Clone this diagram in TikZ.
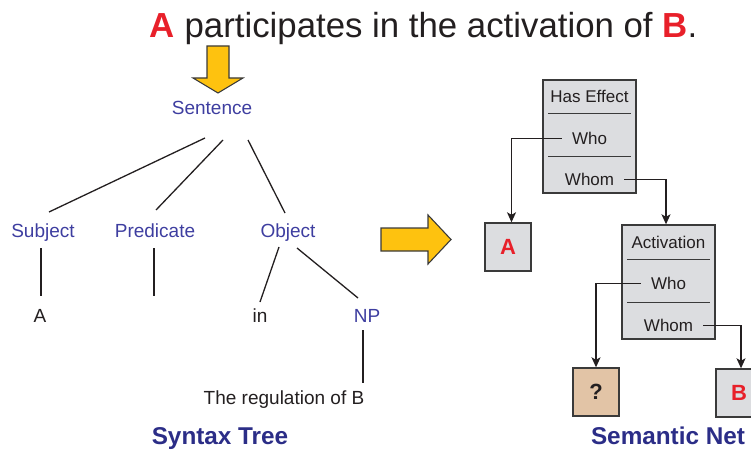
\documentclass[tikz,border=0pt]{standalone}
\usepackage{fontspec}
\setmainfont{Liberation Sans}
\usepackage{xcolor}
\usetikzlibrary{arrows.meta,positioning,calc}
\definecolor{stblue}{HTML}{3E3EA0}
\definecolor{capblue}{HTML}{2B2D87}
\definecolor{sttext}{HTML}{231F20}
\definecolor{snred}{HTML}{E8202A}
\definecolor{snedge}{HTML}{3A3A3A}
\definecolor{snfill}{HTML}{DCDDE0}
\definecolor{snopen}{HTML}{E2C4A6}
\definecolor{bigyellow}{HTML}{FEC20F}
\tikzset{
  st label/.style={
    font=\fontsize{19}{22}\selectfont,
    text=stblue,
    inner sep=0pt,
    text height=13.6pt,
    text depth=0pt,
  },
  st leaf/.style={st label, text=sttext},
  st edge/.style={line width=1.3pt, draw=sttext},
  sn frame/.style={
    rectangle,
    draw=snedge,
    line width=1.4pt,
    fill=snfill,
    minimum width=93pt,
    minimum height=113pt,
    inner sep=0pt,
  },
  sn slot/.style={
    rectangle,
    draw=snedge,
    line width=1.4pt,
    fill=snfill,
    minimum width=46pt,
    minimum height=48pt,
    inner sep=0pt,
    font=\bfseries\fontsize{22}{24}\selectfont,
    text=snred,
  },
  sn field/.style={
    font=\fontsize{17}{20}\selectfont,
    text=sttext,
    inner xsep=10pt,
    inner ysep=0pt,
    text height=12.2pt,
    text depth=0pt,
  },
  sn rule/.style={line width=1.4pt, draw=snedge},
  sn arrow/.style={-{Stealth[length=10pt,width=9pt,inset=2.5pt]}, line width=1.3pt, draw=sttext},
  big arrow/.style={fill=bigyellow, draw=snedge, line width=1.1pt, line join=miter},
  caption/.style={font=\bfseries\fontsize{24.3}{28}\selectfont, text=capblue, text height=17.5pt, text depth=0pt, inner sep=0pt},
}
\begin{document}
\begin{tikzpicture}[x=1pt,y=-1pt]
  \useasboundingbox (0,0) rectangle (751,449);

  % sentence on top
  \node[font=\fontsize{34.8}{40}\selectfont, text=sttext, inner sep=0pt, text height=25pt, text depth=0pt] (sent) at (423.5,25)
    {{\color{snred}\textbf{A}} participates in the activation of {\color{snred}\textbf{B}}.};
  \draw[big arrow] (207,46) -- (229,46) -- (229,78) -- (243,78) -- (218,93) -- (193,78) -- (207,78) -- cycle;
  \draw[big arrow] (381,228) -- (428,228) -- (428,215) -- (451,239.5) -- (428,264) -- (428,251) -- (381,251) -- cycle;

  % syntax tree
  \node[st label] (sentence) at (212,108) {Sentence};
  \node[st label] (subject) at (43,231) {Subject};
  \node[st label] (predicate) at (155,231) {Predicate};
  \node[st label] (object) at (288,231) {Object};
  \node[st leaf] (leafa) at (40,316) {A};
  \node[st leaf] (leafin) at (260,316) {in};
  \node[st label] (np) at (367,316) {NP};
  \node[st leaf] (regul) at (284,398) {The regulation of B};
  \coordinate (predleaf) at (154,296);
  \node[caption] (syntax) at (220,436) {Syntax Tree};

  \draw[st edge] ([shift={(-7,30)}]sentence.center) -- ([shift={(6,-19)}]subject.center);
  \draw[st edge] ([shift={(11,32)}]sentence.center) -- ([shift={(1,-21)}]predicate.center);
  \draw[st edge] ([shift={(36,32)}]sentence.center) -- ([shift={(-3,-18)}]object.center);
  \draw[st edge] ([shift={(-2,17)}]subject.center) -- ([shift={(1,-20)}]leafa.center);
  \draw[st edge] ([shift={(-1,17)}]predicate.center) -- (predleaf);
  \draw[st edge] ([shift={(-9,16)}]object.center) -- ([shift={(0,-14)}]leafin.center);
  \draw[st edge] ([shift={(9,17)}]object.center) -- ([shift={(-9,-18)}]np.center);
  \draw[st edge] ([shift={(-4,14)}]np.center) -- ([shift={(79,-15)}]regul.center);

  % semantic net
  \node[sn frame] (he) at (589.5,136.5) {};
  \node[sn field] (hetitle) at ([yshift=-17pt]he.north) {Has Effect};
  \node[sn field] (hewho) at ([yshift=-59pt]he.north) {Who};
  \node[sn field] (hewhom) at ([yshift=-100pt]he.north) {Whom};
  \draw[sn rule] ([shift={(6,34)}]he.north west) -- ([shift={(-6,34)}]he.north east);
  \draw[sn rule] ([shift={(6,77)}]he.north west) -- ([shift={(-6,77)}]he.north east);

  \node[sn frame, minimum height=114pt] (act) at (668.5,282) {};
  \node[sn field] (acttitle) at ([yshift=-18pt]act.north) {Activation};
  \node[sn field] (actwho) at ([yshift=-59pt]act.north) {Who};
  \node[sn field] (actwhom) at ([yshift=-101pt]act.north) {Whom};
  \draw[sn rule] ([shift={(6,35)}]act.north west) -- ([shift={(-6,35)}]act.north east);
  \draw[sn rule] ([shift={(6,78)}]act.north west) -- ([shift={(-6,78)}]act.north east);

  \node[sn slot] (slota) at (508,247) {A};
  \node[sn slot, fill=snopen, text=sttext] (slotq) at (596,392) {?};
  \node[sn slot] (slotb) at (739,393) {B};
  \node[caption] (semnet) at (668,436) {Semantic Net};

  \draw[sn arrow] (hewho.west) -| ([xshift=3.5pt]slota.north);
  \draw[sn arrow] (hewhom.east) -| ([xshift=-2.5pt]act.north);
  \draw[sn arrow] (actwho.west) -| (slotq.north);
  \draw[sn arrow] (actwhom.east) -| ([xshift=2pt]slotb.north);
\end{tikzpicture}
\end{document}
